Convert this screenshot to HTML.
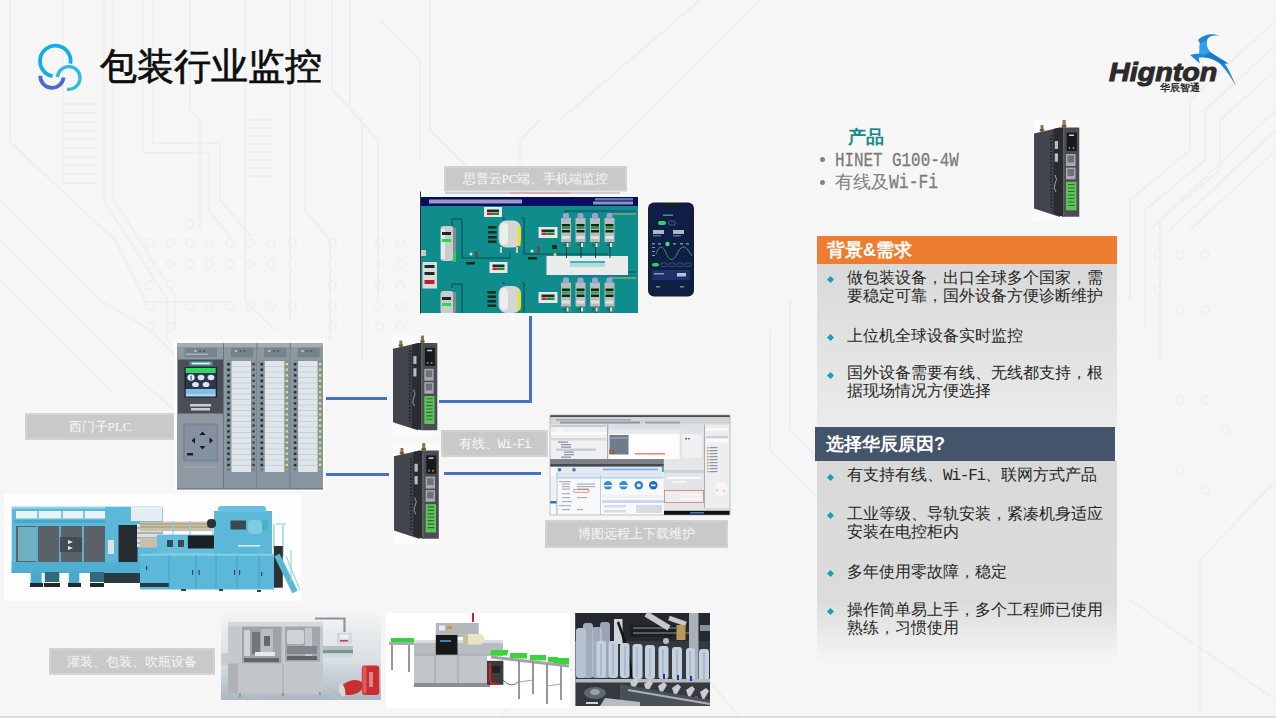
<!DOCTYPE html>
<html><head><meta charset="utf-8">
<style>
html,body{margin:0;padding:0;}
body{width:1276px;height:718px;position:relative;overflow:hidden;background:#f6f6f6;font-family:"Liberation Sans",sans-serif;}
.abs{position:absolute;}
.title{left:100px;top:41.5px;font-size:37.2px;color:#0d0d0d;-webkit-text-stroke:0.7px #0d0d0d;letter-spacing:0px;line-height:48px;white-space:nowrap;}
.lbl{position:absolute;background:#c9c9c9;border:2px solid #d2d2d2;color:#f6f6f6;font-family:"Liberation Serif",serif;font-size:13px;text-align:center;box-sizing:border-box;white-space:nowrap;}
.panel{position:absolute;left:817px;width:300px;}
.p{position:absolute;left:847px;font-family:"Liberation Serif",serif;font-size:16px;line-height:18px;color:#262626;white-space:nowrap;}
.dia{position:absolute;left:828px;width:5px;height:5px;background:#1c9cb8;transform:rotate(45deg);}
.line{position:absolute;background:#4472c4;}
</style></head>
<body>
<!-- bg pattern -->
<svg class="abs" style="left:0;top:0" width="1276" height="718" viewBox="0 0 1276 718">
 <g fill="none" stroke="#efefef" stroke-width="2">
  <path d="M10 0 V142 L115 240 L146 302 H226"/>
  <path d="M0 200 L100 300 L150 330 L230 410 H330"/>
  <path d="M0 240 L90 330 L140 380 L220 450"/>
  <path d="M0 280 L60 340 L110 390"/>
  <path d="M63 0 V186"/>
  <path d="M64 104.0 H97"/><path d="M64 113.0 H97"/><path d="M64 122.0 H97"/><path d="M64 131.0 H97"/><path d="M64 139.0 H97"/><path d="M64 148.0 H97"/><path d="M64 157.0 H97"/><path d="M64 165.0 H97"/><path d="M64 174.0 H97"/><path d="M64 183.0 H97"/>
  <path d="M104 0 V201 L167 299 V340"/>
  <path d="M113 0 V198 L175 296 V330"/>
  <path d="M143 0 V153 H209 V210 L232 240"/>
  <path d="M153 0 V143 H220 V200 L250 235"/>
  <path d="M190 0 V110 L200 120 V230"/>
  <path d="M245 0 V300 L275 330"/>
  <path d="M250 120.0 H272"/><path d="M250 128.0 H272"/><path d="M250 136.0 H272"/><path d="M250 144.0 H272"/><path d="M250 152.0 H272"/><path d="M250 160.0 H272"/><path d="M250 168.0 H272"/><path d="M250 176.0 H272"/>
  <path d="M290 0 V320"/>
  <path d="M305 0 V210 L330 240 V340"/>
  <path d="M332 0 V90 L362 120 V360"/>
  <path d="M350 0 V110 L378 140 V300"/>
  <path d="M380 20 L420 60 V160"/>
  <path d="M430 0 V130 L470 170"/>
  <path d="M560 120 L700 0"/>
  <path d="M600 160 L760 0"/>
  <path d="M520 230 V140 L540 120"/>
  <path d="M1150 230 L1276 110"/>
  <path d="M1170 230 L1276 130"/>
  <path d="M1190 230 L1276 150"/>
  <path d="M1130 300 V200 L1190 150 V100 L1276 20"/>
  <path d="M1145 330 V210 L1205 160 V110 L1276 45"/>
  <path d="M1160 360 V220 L1220 170 V120 L1276 70"/>
  <path d="M1200 718 V560 L1276 480"/>
  <path d="M1130 600 L1276 700"/>
  <path d="M740 718 L700 670 H540 L500 718"/>
  <path d="M770 330 V450 L820 500"/>
  <path d="M790 300 V430 L830 470"/>
 </g>
 <g fill="none" stroke="#efefef" stroke-width="1.6"><circle cx="189.7" cy="224.0" r="4"/><circle cx="149.7" cy="243.2" r="4"/><circle cx="170.6" cy="243.2" r="4"/><circle cx="189.7" cy="243.2" r="4"/><circle cx="208.8" cy="243.2" r="4"/><circle cx="229.7" cy="243.2" r="4"/><circle cx="250.6" cy="243.2" r="4"/><circle cx="271.5" cy="243.2" r="4"/><circle cx="292.4" cy="243.2" r="4"/><circle cx="332.4" cy="243.2" r="4"/><circle cx="379.4" cy="243.2" r="4"/><circle cx="400.3" cy="243.2" r="4"/><circle cx="149.7" cy="264.0" r="4"/><circle cx="170.6" cy="264.0" r="4"/><circle cx="189.7" cy="264.0" r="4"/><circle cx="208.8" cy="264.0" r="4"/><circle cx="229.7" cy="264.0" r="4"/><circle cx="250.6" cy="264.0" r="4"/><circle cx="271.5" cy="264.0" r="4"/><circle cx="292.4" cy="264.0" r="4"/><circle cx="332.4" cy="264.0" r="4"/><circle cx="379.4" cy="264.0" r="4"/><circle cx="400.3" cy="264.0" r="4"/><circle cx="149.7" cy="284.9" r="4"/><circle cx="170.6" cy="284.9" r="4"/><circle cx="332.4" cy="284.9" r="4"/><circle cx="379.4" cy="284.9" r="4"/><circle cx="400.3" cy="284.9" r="4"/><circle cx="149.7" cy="305.8" r="4"/><circle cx="170.6" cy="305.8" r="4"/><circle cx="189.7" cy="305.8" r="4"/><circle cx="208.8" cy="305.8" r="4"/><circle cx="229.7" cy="305.8" r="4"/><circle cx="250.6" cy="305.8" r="4"/><circle cx="271.5" cy="305.8" r="4"/><circle cx="292.4" cy="305.8" r="4"/><circle cx="332.4" cy="305.8" r="4"/><circle cx="379.4" cy="305.8" r="4"/><circle cx="400.3" cy="305.8" r="4"/><circle cx="149.7" cy="326.7" r="4"/><circle cx="170.6" cy="326.7" r="4"/><circle cx="332.4" cy="326.7" r="4"/><circle cx="379.4" cy="326.7" r="4"/><circle cx="400.3" cy="326.7" r="4"/>
  <circle cx="1158" cy="255" r="4"/><circle cx="1180" cy="255" r="4"/><circle cx="1205" cy="255" r="4"/><circle cx="1158" cy="290" r="4"/><circle cx="1180" cy="310" r="4"/><circle cx="1205" cy="310" r="4"/><circle cx="1180" cy="400" r="4"/><circle cx="1205" cy="400" r="4"/><circle cx="1225" cy="430" r="4"/><circle cx="1180" cy="470" r="4"/><circle cx="1205" cy="490" r="4"/>
 </g>
</svg>
<!-- bottom line -->
<div class="abs" style="left:0;top:716px;width:1276px;height:2px;background:#dcdcdc"></div>

<!-- logo icon -->
<svg class="abs" style="left:0;top:0" width="100" height="100" viewBox="0 0 100 100">
  <path d="M70.4 63.6 A15.3 15.3 0 1 0 52.6 76.1" fill="none" stroke="#12aee9" stroke-width="3.8"/>
  <path d="M57.4 77 A11.35 11.35 0 1 1 67.1 89.2" fill="none" stroke="#29bde6" stroke-width="3.3"/>
  <path d="M40.3 75.8 A11.7 11.7 0 0 0 63.6 77.6" fill="none" stroke="#4a6ccf" stroke-width="3.8"/>
</svg>
<div class="abs title">包装行业监控</div>

<!-- Hignton logo -->
<div class="abs" style="left:1109px;top:57px;font-size:25.5px;line-height:30px;font-weight:bold;font-style:italic;color:#2d2a2b;transform:scaleX(1.125);transform-origin:0 0;-webkit-text-stroke:1px #2d2a2b">Hignton</div>
<div class="abs" style="left:1160px;top:82px;font-size:10px;font-weight:bold;color:#2d2a2b;line-height:11px">华辰智通</div>

<svg class="abs" style="left:1180px;top:28px" width="66" height="66" viewBox="1180 28 66 66">
  <path d="M1197.9 39.9 C1200 38 1204 35.5 1208 34.6 C1212 33.8 1216 33.9 1219.5 35.8 C1216 35.2 1212 35.6 1209.4 36.9 C1207.4 38.2 1206.6 41 1206.7 43.6 C1206.8 47 1208 50 1210.3 52 C1214 55 1220 58 1228.3 63.4 L1224.6 63.4 C1228 68 1232 76 1236.3 86.8 C1232 79 1227 71 1220 63.5 C1215 59.5 1209 57.3 1203 57.2 L1198.6 57.8 L1199.8 63.4 L1195.6 59.7 L1190.1 55.1 C1193 54 1196 53.8 1199.3 53.7 C1199.9 51 1199.4 48 1199.6 46 C1200 43.5 1200 42 1197.9 39.9 Z" fill="#1b88d8"/>
  <path d="M1199.6 46 C1200 43.5 1202 41 1206.7 42 C1206.8 47 1208 50 1210.3 52 L1205 55 L1199.3 53.7 C1199.9 51 1199.4 48 1199.6 46 Z" fill="#3aa6ea" opacity="0.8"/>
  <path d="M1210.3 52 C1214 55 1220 58 1228.3 63.4 L1224.6 63.4 L1220 63.5 C1215 59.5 1209 57.3 1203 57.2 Z" fill="#1670c4" opacity="0.6"/>
</svg>
<!-- product -->
<div class="abs" style="left:848px;top:126px;font-size:18px;font-weight:bold;color:#138a8a;line-height:22px">产品</div>
<div class="abs" style="left:820px;top:157px;width:5px;height:5px;border-radius:50%;background:#7d828c"></div>
<div class="abs" style="left:820px;top:180px;width:5px;height:5px;border-radius:50%;background:#7d828c"></div>
<div class="abs" style="left:835px;top:149px;font-family:'Liberation Mono',monospace;font-size:21px;line-height:24px;color:#7a7a7a;transform:scaleX(0.755);transform-origin:0 0;white-space:nowrap;-webkit-text-stroke:0.3px #7a7a7a">HINET G100-4W</div>
<div class="abs" style="left:835px;top:171px;font-size:18px;line-height:22px;color:#808080;white-space:nowrap">有线及<span style="font-family:'Liberation Mono',monospace;font-size:21px;display:inline-block;transform:scaleX(0.78);transform-origin:0 0;-webkit-text-stroke:0.3px #7a7a7a">Wi-Fi</span></div>

<!-- orange header -->
<div class="abs" style="left:817px;top:236px;width:300px;height:28px;background:#ed7d31"></div>
<div class="abs" style="left:827px;top:238px;font-size:18px;font-weight:bold;color:#fff;line-height:24px">背景&amp;需求</div>
<div class="panel" style="top:264px;height:163px;background:linear-gradient(#d9d9d9,#ebebeb)"></div>

<div class="abs" style="left:815px;top:427px;width:300px;height:34px;background:#44546a"></div>
<div class="abs" style="left:826px;top:431px;font-size:18px;font-weight:bold;color:#fff;line-height:26px">选择华辰原因?</div>
<div class="panel" style="top:461px;height:200px;background:linear-gradient(#d9d9d9,#dcdcdc 70%,#f5f5f5)"></div>

<div class="dia" style="top:277px"></div>
<div class="p" style="top:269px">做包装设备，出口全球多个国家，需<br>要稳定可靠，国外设备方便诊断维护</div>
<div class="dia" style="top:335px"></div>
<div class="p" style="top:327px">上位机全球设备实时监控</div>
<div class="dia" style="top:373px"></div>
<div class="p" style="top:364px">国外设备需要有线、无线都支持，根<br>据现场情况方便选择</div>

<div class="dia" style="top:475px"></div>
<div class="p" style="top:466px">有支持有线、<span style="font-family:'Liberation Mono',monospace;font-size:16px;letter-spacing:-1.2px">Wi-Fi</span>、联网方式产品</div>
<div class="dia" style="top:513px"></div>
<div class="p" style="top:505px">工业等级、导轨安装，紧凑机身适应<br>安装在电控柜内</div>
<div class="dia" style="top:571px"></div>
<div class="p" style="top:563px">多年使用零故障，稳定</div>
<div class="dia" style="top:609px"></div>
<div class="p" style="top:601px">操作简单易上手，多个工程师已使用<br>熟练，习惯使用</div>

<!-- labels -->
<div class="lbl" style="left:444px;top:166px;width:183px;height:26px;line-height:22px">思普云PC端、手机端监控</div>
<div class="lbl" style="left:25px;top:413px;width:150px;height:27px;line-height:23px">西门子PLC</div>
<div class="lbl" style="left:441px;top:430px;width:107px;height:27px;line-height:23px">有线、<span style="font-family:'Liberation Mono',monospace;font-size:13px;letter-spacing:-1.3px">Wi-Fi</span></div>
<div class="lbl" style="left:545px;top:520px;width:183px;height:28px;line-height:24px">博图远程上下载维护</div>
<div class="lbl" style="left:49px;top:648px;width:166px;height:27px;line-height:23px">灌装、包装、吹瓶设备</div>

<!-- lines -->
<div class="line" style="left:529px;top:316px;width:3px;height:87px"></div>
<div class="line" style="left:439px;top:400px;width:93px;height:3px"></div>
<div class="line" style="left:326px;top:397px;width:61px;height:3px"></div>
<div class="line" style="left:326px;top:473px;width:63px;height:3px"></div>
<div class="line" style="left:444px;top:472px;width:97px;height:3px"></div>

<!-- SCADA -->
<svg class="abs" style="left:418px;top:188px" width="280" height="130" viewBox="418 188 280 130">
  <rect x="420" y="191.5" width="220" height="123" fill="#f4f6f8"/>
  <rect x="420" y="191.5" width="1" height="122" fill="#333"/>
  <rect x="445" y="192" width="175" height="2" fill="#c9ccd4"/>
  <rect x="510" y="192" width="60" height="2" fill="#d8a0a0" opacity="0.6"/>
  <rect x="421" y="197" width="217" height="9" fill="#0a0c62"/>
  <rect x="429" y="199.5" width="93" height="4" fill="#c8cce0" opacity="0.75"/>
  <rect x="595" y="198" width="38" height="2.5" fill="#6a90d0" opacity="0.8"/>
  <rect x="593" y="201.5" width="40" height="3" fill="#c8cce0" opacity="0.7"/>
  <clipPath id="scclip"><rect x="421" y="206" width="217" height="107"/></clipPath>
  <rect x="421" y="206" width="217" height="107" fill="#0f8d8c"/>
  <g clip-path="url(#scclip)">
  <!-- pipes -->
  <g fill="none" stroke="#143c3c" stroke-width="0.9">
    <path d="M452 226 V219 H462 V258 H478 H510 V253"/>
    <path d="M522 218 H524 V254 H560 H608"/>
    <path d="M565 218 V211 H636"/>
    <path d="M566 271 V272 H636"/>
    <path d="M452 288 V284 H462 V313"/>
    <path d="M522 283 H524 V313"/>
  </g>
  <g fill="none" stroke="#2a5fb8" stroke-width="1">
    <path d="M580 218 V212 H636"/>
    <path d="M580 282 V276 H636"/>
  </g>
  <g fill="none" stroke="#9ad04a" stroke-width="1">
    <path d="M609 218 V214 H636"/>
    <path d="M609 282 V278 H636"/>
  </g>
  <!-- tanks left -->
  <rect x="440.5" y="226" width="13" height="35" rx="3" fill="#c9cbcc"/>
  <rect x="441" y="229" width="4" height="30" fill="#e8e8e8"/>
  <rect x="442" y="232" width="9" height="3" fill="#1a2a22"/>
  <rect x="442" y="239" width="9" height="3" fill="#22dd44"/>
  <rect x="453" y="228" width="3" height="34" fill="#8a8a8a"/>
  <rect x="453" y="252" width="3" height="9" fill="#33cc44"/>
  <rect x="440.5" y="291" width="13" height="23" rx="3" fill="#c9cbcc"/>
  <rect x="442" y="297" width="9" height="3" fill="#1a2a22"/>
  <rect x="442" y="303" width="9" height="3" fill="#22dd44"/>
  <rect x="453" y="292" width="3" height="21" fill="#8a8a8a"/>
  <!-- left panel -->
  <rect x="422.5" y="262" width="14.5" height="26.5" fill="#d9dcdc"/>
  <rect x="424.5" y="265" width="10" height="3" fill="#153020"/>
  <rect x="424.5" y="272" width="10" height="3" fill="#153020"/>
  <rect x="424.5" y="280" width="10" height="4" fill="#c02020"/>
  <rect x="421" y="250" width="5" height="6" fill="#c8c8c8"/>
  <!-- reactors -->
  <rect x="498.5" y="220.5" width="22.5" height="27" rx="8" fill="#d3d5d6"/>
  <rect x="500" y="223" width="8" height="22" rx="4" fill="#eceeee"/>
  <rect x="517.5" y="226" width="3" height="20" fill="#f0e020"/>
  <rect x="500" y="247" width="2" height="6" fill="#cfcfcf"/>
  <rect x="516" y="247" width="2" height="6" fill="#cfcfcf"/>
  <rect x="498.5" y="286" width="22.5" height="27" rx="8" fill="#d3d5d6"/>
  <rect x="500" y="288" width="8" height="22" rx="4" fill="#eceeee"/>
  <rect x="517.5" y="291" width="3" height="19" fill="#f0e020"/>
  <circle cx="503.5" cy="218.5" r="1.3" fill="#2040c0"/>
  <circle cx="503.5" cy="283" r="1.3" fill="#2040c0"/>
  <!-- black displays -->
  <g fill="#0b2a1a">
    <rect x="488" y="226" width="8.5" height="2.5"/><rect x="488" y="231" width="8.5" height="2.5"/>
    <rect x="488" y="236" width="8.5" height="2.5"/><rect x="488" y="240.5" width="8.5" height="2.5"/>
    <rect x="487.5" y="291" width="8.5" height="2.5"/><rect x="487.5" y="295.5" width="8.5" height="2.5"/>
    <rect x="487.5" y="300" width="8.5" height="2.5"/><rect x="487.5" y="304.5" width="8.5" height="2.5"/>
    <rect x="466" y="262" width="9" height="2.5"/><rect x="528" y="257" width="9" height="2.5"/>
  </g>
  <!-- white panels -->
  <g>
    <rect x="484" y="207" width="18" height="10" fill="#e6e8e8"/>
    <rect x="487" y="209.5" width="12" height="2.5" fill="#1b3020"/><rect x="487" y="212.5" width="5" height="2.5" fill="#d02424"/><rect x="492" y="212.5" width="7" height="2.5" fill="#1f8a3a"/>
    <rect x="538.5" y="227" width="19" height="11" fill="#e6e8e8"/>
    <rect x="541.5" y="229.5" width="13" height="2.5" fill="#1b3020"/><rect x="541.5" y="232.5" width="5" height="2.5" fill="#d02424"/><rect x="546.5" y="232.5" width="8" height="2.5" fill="#1f8a3a"/>
    <rect x="489.5" y="262" width="18" height="11" fill="#e6e8e8"/>
    <rect x="492.5" y="264.5" width="12" height="2.5" fill="#1b3020"/><rect x="492.5" y="267.5" width="5" height="2.5" fill="#d02424"/><rect x="497.5" y="267.5" width="7" height="2.5" fill="#1f8a3a"/>
    <rect x="538.5" y="292" width="19" height="11" fill="#e6e8e8"/>
    <rect x="541.5" y="294.5" width="13" height="2.5" fill="#1b3020"/><rect x="541.5" y="297.5" width="5" height="2.5" fill="#d02424"/><rect x="546.5" y="297.5" width="8" height="2.5" fill="#1f8a3a"/>
  </g>
  <!-- big white box -->
  <rect x="546.5" y="256" width="81.5" height="19" fill="#eaecec"/>
  <rect x="570" y="261" width="35" height="6" fill="#b8d8dc"/>
  <rect x="570" y="261" width="35" height="2" fill="#30b8c8"/>
  <!-- tank rows -->
  <g id="tk">
    <rect x="561" y="218" width="10" height="24" fill="#b9bcbe"/>
    <rect x="563" y="213" width="6" height="6" rx="2" fill="#9aa8c8"/>
    <rect x="562" y="224" width="8" height="2.5" fill="#0b2a12"/>
    <rect x="562" y="227" width="8" height="2" fill="#2a9a3a"/>
    <rect x="562" y="230" width="8" height="2.5" fill="#0b2a12"/>
    <rect x="562" y="236" width="8" height="3" fill="#e0e0e0"/>
    <rect x="566" y="242" width="1" height="16" fill="#1b3b3b"/>
    <rect x="563" y="244" width="3" height="2" fill="#2a6a2a"/>
    <rect x="566.5" y="243" width="2" height="4" fill="#e0e0e0"/>
    <rect x="569" y="243" width="2" height="4" fill="#777"/>
  </g>
  <use href="#tk" x="14.5"/><use href="#tk" x="29"/><use href="#tk" x="43.5"/>
  <use href="#tk" y="64.5"/><use href="#tk" x="14.5" y="64.5"/><use href="#tk" x="29" y="64.5"/><use href="#tk" x="43.5" y="64.5"/>
  <!-- small valves -->
  <circle cx="471" cy="254" r="1.5" fill="#e6e6e6"/><rect x="475" y="251" width="3" height="6" fill="#555"/>
  <circle cx="532" cy="251" r="1.5" fill="#e6e6e6"/><rect x="537" y="246" width="3" height="7" fill="#555"/>
  <circle cx="555" cy="254.5" r="1.5" fill="#f0e020"/><rect x="552" y="245" width="5" height="4" fill="#153020"/>
  </g>
  <rect x="638" y="192" width="2" height="122" fill="#fbfbfb"/>
</svg>

<!-- phone -->
<svg class="abs" style="left:646px;top:200px" width="50" height="100" viewBox="646 200 50 100">
  <rect x="648" y="202.5" width="46" height="94" rx="6" fill="#1b1d22"/>
  <rect x="649.2" y="203.7" width="43.6" height="91.6" rx="5" fill="#0e1e44"/>
  <rect x="662" y="204" width="17" height="3" rx="1.5" fill="#1b1d22"/>
  <rect x="663" y="214.5" width="10" height="1.5" fill="#b0b8d0" opacity="0.6"/>
  <rect x="658" y="221" width="8" height="4" rx="2" fill="#2ed06a"/>
  <rect x="668.5" y="221" width="7" height="4" rx="2" fill="none" stroke="#7a8aa8" stroke-width="0.6"/>
  <rect x="653" y="230" width="11" height="4" fill="#d8dcec" opacity="0.8"/>
  <rect x="673" y="230" width="11" height="4" fill="#d8dcec" opacity="0.8"/>
  <rect x="653" y="235" width="8" height="1.5" fill="#5a6a90"/>
  <rect x="673" y="235" width="8" height="1.5" fill="#5a6a90"/>
  <circle cx="667.5" cy="244" r="2.2" fill="#3ddc7a"/>
  <g fill="#7a88a8"><rect x="652" y="243" width="3" height="1.5"/><rect x="658" y="243" width="3" height="1.5"/><rect x="673" y="243" width="3" height="1.5"/><rect x="680" y="243" width="3" height="1.5"/><rect x="686" y="243" width="3" height="1.5"/></g>
  <path d="M656 254 C659 245 663 245 666 253 S673 262 677 254 S684 245 688 250 L692 256" fill="none" stroke="#3fae5a" stroke-width="0.9"/><g fill="#8a98b8"><rect x="652" y="247" width="3" height="1"/><rect x="652" y="251" width="3" height="1"/><rect x="652" y="255" width="3" height="1"/></g>
  <rect x="652" y="263" width="7" height="3.5" rx="1.7" fill="#2ed06a"/>
  <g fill="none" stroke="#6a7aa0" stroke-width="0.5"><rect x="661" y="263" width="6" height="3.5" rx="1"/><rect x="669" y="263" width="6" height="3.5" rx="1"/><rect x="677" y="263" width="6" height="3.5" rx="1"/><rect x="685" y="263" width="6" height="3.5" rx="1"/></g>
  <rect x="652" y="270" width="38" height="10" fill="#1b3266"/>
  <rect x="677" y="273" width="9" height="3.5" fill="#d8dcec" opacity="0.85"/>
  <rect x="654" y="273" width="10" height="1.5" fill="#8898c0"/>
  <rect x="656" y="286" width="4" height="1.5" fill="#3fae5a"/>
  <rect x="680" y="286" width="4" height="1.5" fill="#3fae5a"/>
</svg>

<!-- PLC -->
<svg class="abs" style="left:172px;top:338px" width="156" height="156" viewBox="172 338 156 156">
  <rect x="174" y="340" width="151" height="151" fill="#fcfcfc"/>
  <path d="M181 343 H323 V489 H177 V347 Z" fill="#8e99a4"/>
  <rect x="177" y="343" width="146" height="4" fill="#a3adb6"/>
  <!-- CPU -->
  <rect x="184.5" y="347.8" width="32.5" height="9.5" fill="#77838e"/>
  <circle cx="195.5" cy="351" r="1.1" fill="#d8f040"/>
  <circle cx="200" cy="351" r="1.1" fill="#505a60"/><circle cx="204" cy="351" r="1.1" fill="#505a60"/>
  <rect x="186" y="353.5" width="22" height="1.5" fill="#a8b2ba"/>
  <rect x="178" y="359.5" width="45" height="54" fill="#4a4f57"/>
  <rect x="189.5" y="361.5" width="23" height="4" fill="#3aa7a0"/>
  <rect x="192" y="362.7" width="18" height="1.6" fill="#e8f4f2"/>
  <rect x="184.5" y="367.2" width="32.5" height="30.3" fill="#1e2024"/>
  <rect x="185.7" y="368" width="30" height="5" fill="#2bdd5a"/>
  <rect x="185.7" y="373" width="30" height="16" fill="#2e3452"/>
  <ellipse cx="191" cy="377.5" rx="3.6" ry="3.3" fill="#f4f6fa"/>
  <rect x="190.5" y="375.5" width="1.2" height="4.5" fill="#2a4aa0"/>
  <ellipse cx="201" cy="377.5" rx="3.4" ry="2.8" fill="#dce6f4"/>
  <ellipse cx="211" cy="377.5" rx="3.4" ry="2.8" fill="#dce6f4"/>
  <ellipse cx="195.5" cy="384.5" rx="3.4" ry="2.6" fill="#dce6f4"/>
  <ellipse cx="206" cy="384.5" rx="3.4" ry="2.6" fill="#dce6f4"/>
  <rect x="185.7" y="389" width="30" height="5" fill="#7cc0e6"/>
  <rect x="185.7" y="394" width="30" height="2.5" fill="#aad6f0"/>
  <rect x="190" y="404" width="21" height="2.5" fill="#c8cdd2"/>
  <rect x="191" y="408" width="19" height="2.5" fill="#c8cdd2"/>
  <rect x="183" y="423.5" width="35.5" height="38" fill="#7a8692"/>
  <rect x="185" y="425.5" width="31.5" height="34" fill="#8590a0"/>
  <path d="M202.5 431.5 l-3 3.5 h6 z M202.5 449.5 l-3 -3.5 h6 z M191.5 440.5 l3.5 -3 v6 z M213 440.5 l-3.5 -3 v6 z" fill="#15181c"/>
  <rect x="187" y="453" width="6" height="2.5" fill="#1e2226"/>
  <path d="M206 455.5 h6 v-4" fill="none" stroke="#30b0a8" stroke-width="0.8"/>
  <rect x="185" y="466" width="30" height="2" fill="#9aa4ae"/>
  <rect x="223" y="343" width="1" height="146" fill="#6a747e"/>
  <!-- modules -->
  <g id="mod">
    <rect x="224" y="347.8" width="33" height="125" fill="#8c98a2"/>
    <rect x="231" y="347.8" width="22" height="9.5" fill="#76828c"/>
    <circle cx="236" cy="351" r="1.1" fill="#d8f040"/>
    <circle cx="240.5" cy="351" r="1.1" fill="#505a60"/><circle cx="244.5" cy="351" r="1.1" fill="#505a60"/>
    <rect x="226" y="360" width="30" height="113" fill="#86929c"/>
    <rect x="231.5" y="361" width="19.5" height="111" fill="#dfe5ea"/>
    <path d="M231.5 366.5 H251 M231.5 372 H251 M231.5 377.5 H251 M231.5 383 H251 M231.5 388.5 H251 M231.5 394 H251 M231.5 399.5 H251 M231.5 405 H251 M231.5 410.5 H251 M231.5 416 H251 M231.5 421.5 H251 M231.5 427 H251 M231.5 432.5 H251 M231.5 438 H251 M231.5 443.5 H251 M231.5 449 H251 M231.5 454.5 H251 M231.5 460 H251 M231.5 465.5 H251" stroke="#b8c2ca" stroke-width="0.6"/>
    <path d="M228.5 363 V470" stroke="#2a2e33" stroke-width="2.6" stroke-dasharray="2.4 3.2"/>
    <path d="M253.5 363 V470" stroke="#3a3f45" stroke-width="2.4" stroke-dasharray="2.2 3.4"/>
    <rect x="224" y="472" width="33" height="17" fill="#8894a0"/>
    <rect x="256.5" y="343" width="1" height="146" fill="#6a747e"/>
  </g>
  <g transform="translate(33.3 0)">
    <rect x="224" y="347.8" width="33" height="125" fill="#8c98a2"/>
    <rect x="231" y="347.8" width="22" height="9.5" fill="#76828c"/>
    <circle cx="236" cy="351" r="1.1" fill="#d8f040"/>
    <circle cx="240.5" cy="351" r="1.1" fill="#505a60"/><circle cx="244.5" cy="351" r="1.1" fill="#505a60"/>
    <rect x="226" y="360" width="30" height="113" fill="#86929c"/>
    <rect x="231.5" y="361" width="19.5" height="111" fill="#dfe5ea"/>
    <path d="M231.5 366.5 H251 M231.5 372 H251 M231.5 377.5 H251 M231.5 383 H251 M231.5 388.5 H251 M231.5 394 H251 M231.5 399.5 H251 M231.5 405 H251 M231.5 410.5 H251 M231.5 416 H251 M231.5 421.5 H251 M231.5 427 H251 M231.5 432.5 H251 M231.5 438 H251 M231.5 443.5 H251 M231.5 449 H251 M231.5 454.5 H251 M231.5 460 H251 M231.5 465.5 H251" stroke="#b8c2ca" stroke-width="0.6"/>
    <path d="M228.5 363 V470" stroke="#2a2e33" stroke-width="2.6" stroke-dasharray="2.4 3.2"/>
    <path d="M253.5 363 V470" stroke="#d6e860" stroke-width="2.4" stroke-dasharray="2.2 3.4"/>
    <rect x="224" y="472" width="33" height="17" fill="#8894a0"/>
    <rect x="256.5" y="343" width="1" height="146" fill="#6a747e"/>
  </g>
  <g transform="translate(66.6 0)">
    <rect x="224" y="347.8" width="32" height="125" fill="#8c98a2"/>
    <rect x="231" y="347.8" width="22" height="9.5" fill="#76828c"/>
    <circle cx="236" cy="351" r="1.1" fill="#d8f040"/>
    <circle cx="240.5" cy="351" r="1.1" fill="#505a60"/><circle cx="244.5" cy="351" r="1.1" fill="#505a60"/>
    <rect x="226" y="360" width="30" height="113" fill="#86929c"/>
    <rect x="231.5" y="361" width="19.5" height="111" fill="#dfe5ea"/>
    <path d="M231.5 366.5 H251 M231.5 372 H251 M231.5 377.5 H251 M231.5 383 H251 M231.5 388.5 H251 M231.5 394 H251 M231.5 399.5 H251 M231.5 405 H251 M231.5 410.5 H251 M231.5 416 H251 M231.5 421.5 H251 M231.5 427 H251 M231.5 432.5 H251 M231.5 438 H251 M231.5 443.5 H251 M231.5 449 H251 M231.5 454.5 H251 M231.5 460 H251 M231.5 465.5 H251" stroke="#b8c2ca" stroke-width="0.6"/>
    <path d="M228.5 363 V470" stroke="#2a2e33" stroke-width="2.6" stroke-dasharray="2.4 3.2"/>
    <path d="M253.5 363 V470" stroke="#d6e860" stroke-width="2.4" stroke-dasharray="2.2 3.4"/>
    <rect x="224" y="472" width="32" height="17" fill="#8894a0"/>
  </g>
  <path d="M177 489 H323" stroke="#5a646e" stroke-width="1"/>
</svg>

<!-- router symbol -->
<svg width="0" height="0" style="position:absolute">
  <symbol id="rt" viewBox="0 0 47 102">
    <rect x="0" y="0" width="47" height="102" fill="#fbfbfb"/>
    <rect x="7.5" y="5" width="3" height="9" fill="#8a7850"/><rect x="6.8" y="9" width="4.4" height="2" fill="#6a5a40"/>
    <rect x="29.5" y="0" width="3.2" height="10" fill="#8a7850"/><rect x="28.8" y="5" width="4.6" height="2" fill="#6a5a40"/>
    <path d="M1 13.4 L27 7.5 V97 L1 88.5 Z" fill="#42454b"/>
    <path d="M30 7.5 H46.3 V96.8 H30 Z" fill="#4a4d54"/>
    <path d="M18.2 15 V90" stroke="#202226" stroke-width="2" stroke-dasharray="1.6 1.8"/>
    <path d="M20.4 9 L27 7.5 H30 V96.8 L20.4 93.8 Z" fill="#2a2c30"/>
    <rect x="21.8" y="21" width="3.2" height="8" fill="#b8bcc0"/>
    <rect x="21.8" y="33.4" width="3.2" height="8.4" fill="#b8bcc0"/>
    <path d="M22 55 q3 4 0 9 q-2 4 1 8" fill="none" stroke="#9a9ea4" stroke-width="1"/>
    <rect x="30" y="7.5" width="1.5" height="89" fill="#5a5d64"/>
    <rect x="33.7" y="12.5" width="10.1" height="18.4" fill="#18191c"/>
    <rect x="36" y="14.5" width="5" height="1.5" fill="#cfd2d6"/>
    <circle cx="36.5" cy="28" r="0.9" fill="#40d060"/><circle cx="40.5" cy="28" r="0.9" fill="#e09030"/>
    <rect x="33" y="34" width="9.5" height="12" fill="#a8acb2"/>
    <rect x="34.5" y="35.5" width="6.5" height="7" fill="#6d7178"/>
    <rect x="33" y="47.6" width="9.5" height="11.7" fill="#a8acb2"/>
    <rect x="34.5" y="49" width="6.5" height="7" fill="#6d7178"/>
    <rect x="33" y="61.8" width="10.5" height="28.5" fill="#5ec45a"/>
    <path d="M35 64.5 h6.5 M35 68 h6.5 M35 71.5 h6.5 M35 75 h6.5 M35 78.5 h6.5 M35 82 h6.5 M35 85.5 h6.5" stroke="#2f6a30" stroke-width="1.2"/>
  </symbol>
</svg>
<!-- routers -->
<svg class="abs" style="left:392px;top:334px" width="46" height="103"><use href="#rt" width="46" height="103"/></svg>
<svg class="abs" style="left:393px;top:442px" width="46.5" height="103"><use href="#rt" width="46.5" height="103"/></svg>
<svg class="abs" style="left:1033px;top:120px" width="47" height="102"><use href="#rt" width="47" height="102"/></svg>

<!-- TIA -->
<svg class="abs" style="left:548px;top:412px" width="184" height="106" viewBox="548 412 184 106">
  <rect x="550" y="415" width="180" height="100" fill="#e4e6e8"/>
  <rect x="550" y="415" width="180" height="2.2" fill="#4a4d52"/>
  <rect x="550" y="417.2" width="180" height="7.4" fill="#d3d6d9"/>
  <rect x="556" y="419" width="75" height="1.6" fill="#a0a6ae"/>
  <rect x="560" y="421.5" width="80" height="2" fill="#8d96a2"/>
  <rect x="645" y="421.5" width="35" height="2" fill="#9aa2ae"/>
  <!-- left tree -->
  <rect x="550" y="424.6" width="57" height="34.5" fill="#eef0f2"/>
  <rect x="551" y="425" width="55" height="2" fill="#c8ccd2"/>
  <rect x="556" y="428.5" width="8" height="3" fill="#fafafa"/>
  <rect x="551" y="432" width="55" height="3" fill="#fbfbfb"/>
  <rect x="551" y="438" width="55" height="2.5" fill="#d5d9de"/>
  <g fill="#8a95a8"><rect x="558" y="441.5" width="10" height="1.3"/><rect x="561" y="444" width="10" height="1.3"/><rect x="561" y="446.5" width="10" height="1.3"/><rect x="561" y="449" width="24" height="1.3"/><rect x="564" y="451.5" width="10" height="1.3"/><rect x="564" y="454" width="10" height="1.3"/><rect x="561" y="456.5" width="10" height="1.3"/></g>
  <rect x="556" y="448.5" width="40" height="2.5" fill="#c5ccd6"/>
  <rect x="607" y="424.6" width="1.5" height="34.5" fill="#a8adb4"/>
  <!-- center canvas -->
  <rect x="608.5" y="424.6" width="72" height="5" fill="#dcdfe3"/>
  <rect x="608.5" y="429.6" width="71" height="4.5" fill="#e8eaed"/>
  <rect x="608.5" y="434" width="71" height="25" fill="#fdfdfd"/>
  <rect x="609.5" y="435" width="19" height="19.5" fill="#6e7d8a"/>
  <rect x="610.5" y="437" width="17" height="2" fill="#8d9aa6"/>
  <rect x="609.5" y="450" width="4.5" height="3.5" fill="none" stroke="#e03030" stroke-width="0.7"/>
  <rect x="635" y="453" width="30" height="1.6" fill="#f06a5a" opacity="0.8"/>
  <rect x="680.5" y="424.6" width="24" height="34" fill="#e0e3e6"/>
  <rect x="682" y="434" width="20" height="24" fill="#eef0f2"/>
  <rect x="685" y="438" width="2" height="1.5" fill="#e04020"/><rect x="688" y="438" width="2" height="1.5" fill="#40a040"/>
  <!-- right catalog -->
  <rect x="704" y="424.6" width="26" height="90" fill="#eceef0"/>
  <rect x="704" y="424.6" width="1" height="90" fill="#a8adb4"/>
  <rect x="706" y="428" width="22" height="2.5" fill="#fafafa"/>
  <rect x="706" y="436" width="22" height="2" fill="#c8ced6"/>
  <rect x="706" y="439" width="22" height="3.5" fill="#fafafa"/>
  <g fill="#d0a030"><rect x="707" y="447" width="1.5" height="1.5"/><rect x="707" y="450" width="1.5" height="1.5"/><rect x="707" y="453" width="1.5" height="1.5"/><rect x="707" y="456" width="1.5" height="1.5"/><rect x="707" y="459" width="1.5" height="1.5"/><rect x="707" y="462" width="1.5" height="1.5"/><rect x="707" y="465" width="1.5" height="1.5"/><rect x="707" y="468" width="1.5" height="1.5"/><rect x="707" y="471" width="1.5" height="1.5"/></g>
  <g fill="#8a95a8"><rect x="709.5" y="447" width="8" height="1.2"/><rect x="709.5" y="450" width="8" height="1.2"/><rect x="709.5" y="453" width="8" height="1.2"/><rect x="709.5" y="456" width="8" height="1.2"/><rect x="709.5" y="459" width="8" height="1.2"/><rect x="709.5" y="462" width="8" height="1.2"/><rect x="709.5" y="465" width="8" height="1.2"/><rect x="709.5" y="468" width="8" height="1.2"/><rect x="709.5" y="471" width="8" height="1.2"/></g>
  <ellipse cx="721" cy="489" rx="7" ry="7" fill="#fbf6f6"/>
  <circle cx="717" cy="490" r="1.5" fill="#f5b0b0" opacity="0.6"/><circle cx="724" cy="491" r="1.5" fill="#f5b0b0" opacity="0.6"/>
  <rect x="704" y="508" width="26" height="3" fill="#d8dbe0"/>
  <!-- properties bottom right -->
  <rect x="663.8" y="470" width="40.2" height="41" fill="#e2e4e6"/>
  <rect x="663.8" y="470" width="40" height="3" fill="#cdd2d8"/>
  <rect x="667" y="477" width="34" height="2" fill="#fafafa"/>
  <rect x="671" y="481" width="15" height="2" fill="#f4f4f4"/>
  <rect x="664.5" y="490.5" width="39" height="12" fill="#eceeef" stroke="#e05040" stroke-width="0.6"/>
  <rect x="681" y="494" width="20" height="1.6" fill="#fafafa"/><rect x="681" y="498" width="20" height="1.6" fill="#fafafa"/>
  <rect x="663.8" y="510.8" width="66" height="4.2" fill="#0e1014"/>
  <rect x="690" y="512" width="14" height="1.6" fill="#5070c0"/>
  <!-- dialog -->
  <rect x="550" y="459" width="113.8" height="5" fill="#7d8084"/>
  <rect x="550" y="464" width="113.8" height="2.8" fill="#45484d"/>
  <rect x="550" y="466.8" width="113.8" height="48.2" fill="#f7f9fb"/>
  <rect x="557" y="467" width="106.8" height="5.5" fill="#e3eaf2"/>
  <circle cx="559.5" cy="469.8" r="1.8" fill="#2a7ad0"/><circle cx="574" cy="469.8" r="1.8" fill="#2a7ad0"/>
  <rect x="603" y="468.5" width="55" height="1.8" fill="#7ab0e8"/>
  <rect x="662" y="467" width="1.8" height="5" fill="#30a0e0"/>
  <rect x="557" y="472.5" width="106.8" height="3" fill="#dfe4ea"/>
  <rect x="557" y="476.2" width="44" height="2.6" fill="#c4daf2"/>
  <rect x="600.5" y="476.2" width="63" height="2.6" fill="#c4daf2"/>
  <rect x="600" y="475" width="1" height="40" fill="#c8ccd2"/>
  <rect x="556.5" y="472.5" width="0.8" height="42.5" fill="#9aa0a8"/>
  <g fill="#a8b0bc"><rect x="559" y="481" width="12" height="1.2"/><rect x="562" y="483.5" width="8" height="1.2"/><rect x="577" y="483.5" width="18" height="1.2"/><rect x="562" y="486" width="8" height="1.2"/><rect x="577" y="486" width="18" height="1.2"/><rect x="562" y="488.5" width="8" height="1.2"/><rect x="577" y="488.5" width="12" height="1.2"/><rect x="562" y="493" width="8" height="1.2"/><rect x="562" y="497" width="8" height="1.2"/><rect x="577" y="497" width="10" height="1.2"/><rect x="562" y="501" width="10" height="1.2"/><rect x="559" y="505" width="12" height="1.2"/><rect x="562" y="509" width="8" height="1.2"/><rect x="577" y="509" width="6" height="1.2"/></g>
  <rect x="573.5" y="489.5" width="15.5" height="2.8" rx="1" fill="none" stroke="#e04a40" stroke-width="0.6"/>
  <rect x="550" y="501" width="6.5" height="2.5" fill="#1e78d6"/>
  <g fill="#eef2f6"><rect x="550" y="476" width="6.5" height="24"/></g>
  <circle cx="608" cy="485.3" r="4.2" fill="#3c8ad0"/><rect x="604" y="485" width="8" height="1.5" fill="#e8f2fb"/>
  <circle cx="623.5" cy="485.3" r="4.2" fill="#3c8ad0"/><rect x="619.5" y="485" width="8" height="1.5" fill="#e8f2fb"/>
  <circle cx="638.8" cy="485.3" r="4.2" fill="#2a7ac8"/><circle cx="638.8" cy="485.3" r="2" fill="#e8f2fb"/>
  <circle cx="653.3" cy="485.3" r="4.2" fill="#1c6cc8"/><rect x="651" y="484.5" width="4.6" height="1.6" fill="#e8f2fb"/>
  <rect x="602" y="495" width="60" height="3" fill="#eef0f2"/>
  <rect x="602" y="500" width="62" height="3" fill="#c4daf2"/>
  <g fill="#d8dce2"><rect x="604" y="505" width="22" height="2.5"/><rect x="604" y="510" width="22" height="2.5"/><rect x="636" y="505" width="26" height="8"/></g>
  <rect x="550" y="415" width="180" height="100" fill="none" stroke="#9aa0a6" stroke-width="0.6"/>
</svg>

<!-- injection machine -->
<svg class="abs" style="left:2px;top:492px" width="302" height="112" viewBox="2 492 302 112">
  <rect x="4" y="494" width="297" height="107" fill="#fdfdfd"/>
  <!-- guard -->
  <rect x="11.7" y="506.8" width="151" height="66" fill="#5bb8d9"/>
  <rect x="11.7" y="506.8" width="151" height="2" fill="#8fd4e4"/>
  <rect x="16" y="511" width="91" height="7.5" fill="#eaf4f6"/>
  <path d="M38 511 V518.5 M62 511 V518.5 M84 511 V518.5" stroke="#5bb8d9" stroke-width="1.5"/>
  <rect x="14" y="520" width="103" height="3" fill="#48a8cc"/>
  <rect x="16" y="526" width="89" height="36" fill="#5a6268"/>
  <rect x="18" y="527" width="18" height="34" fill="#6fb0c0"/>
  <path d="M37 526 V562 M60 526 V562 M83 526 V562" stroke="#5bb8d9" stroke-width="1.8"/>
  <rect x="60" y="537" width="22" height="15" fill="#444c52"/>
  <path d="M68 540 l5 2 l-5 2 z M68 546 l5 2 l-5 2 z" fill="#eaeaea"/>
  <rect x="105" y="507" width="57" height="62" fill="#5bb8d9"/>
  <rect x="131" y="507" width="31" height="14" fill="#e4eef2"/>
  <rect x="118.5" y="525" width="19" height="37" fill="#262b30"/>
  <rect x="137" y="524" width="25" height="23" fill="#d8e2e6"/>
  <path d="M137 528 H162 M137 533 H162 M137 538 H162 M137 543 H162" stroke="#9aa4aa" stroke-width="1.5"/>
  <rect x="108" y="540" width="6" height="14" fill="#dde4e8"/>
  <rect x="11.7" y="562" width="151" height="11" fill="#50aed2"/>
  <!-- feet -->
  <g fill="#4aa8cc"><rect x="30.7" y="572" width="11" height="11"/><rect x="68.8" y="572" width="10.5" height="11"/></g><g fill="#2f6a80"><rect x="44.8" y="572" width="14.5" height="10"/><rect x="90" y="572" width="14" height="10"/></g>
  <g fill="#23282c"><rect x="30" y="583" width="13" height="4"/><rect x="44" y="583" width="16" height="4"/><rect x="68" y="583" width="13" height="4"/><rect x="90" y="583" width="14" height="4"/></g>
  <rect x="104" y="573" width="62" height="10" fill="#2a3a40"/>
  <!-- barrels -->
  <rect x="140" y="521.6" width="73" height="9.5" fill="#c8c0a8"/>
  <path d="M140 524 H213 M140 527 H213" stroke="#9a8c70" stroke-width="0.8"/>
  <rect x="140" y="538" width="19" height="9.7" fill="#c8c0a8"/>
  <path d="M173 521 V553 M190 521 V553 M213 521 V553" stroke="#8ad2e4" stroke-width="1.2"/>
  <!-- motor section -->
  <rect x="157" y="534.6" width="57" height="19.2" fill="#66bedf"/>
  <rect x="167" y="540" width="6" height="7" fill="#3a4a52"/>
  <rect x="178" y="540" width="6" height="7" fill="#3a4a52"/>
  <rect x="187.9" y="535.5" width="30" height="13" fill="#1c2024"/>
  <!-- injection unit -->
  <rect x="214" y="511" width="58" height="43" fill="#5bb8d9"/>
  <rect x="218" y="506" width="48" height="6" rx="3" fill="#68c0e0"/>
  <rect x="230.5" y="520.5" width="15.5" height="9" fill="#3a4850"/>
  <rect x="248" y="520" width="14" height="14" rx="4" fill="#7dcde0"/>
  <rect x="262" y="520" width="6" height="10" fill="#4fb0c8"/>
  <rect x="207" y="519" width="9" height="9" rx="4" fill="#2a3036"/>
  <rect x="238" y="545" width="22" height="1.5" fill="#e0f2f6"/>
  <!-- cabinet -->
  <rect x="140" y="553.8" width="134" height="35.7" fill="#5bb8d9"/>
  <rect x="140" y="553.8" width="134" height="2" fill="#82d0e2"/>
  <path d="M169 555 V589 M196 555 V589 M216 555 V589 M237 555 V589 M259 555 V589" stroke="#3f9eb8" stroke-width="0.8"/>
  <g fill="#2a4a56"><rect x="192" y="570" width="1.2" height="5"/><rect x="198.5" y="570" width="1.2" height="5"/><rect x="234" y="570" width="1.2" height="5"/><rect x="239" y="570" width="1.2" height="5"/><rect x="261" y="572" width="1.2" height="4"/><rect x="146" y="566" width="1.2" height="4"/></g>
  <rect x="140" y="583" width="28.7" height="4" fill="#2a3a40"/>
  <g fill="#3a3f44"><rect x="181" y="589" width="5" height="2"/><rect x="219" y="589" width="4" height="2"/><rect x="257" y="590" width="4" height="2"/></g>
  <!-- stairs & railing -->
  <path d="M274 524 V554 M283 525 V556 M276 524 H286" stroke="#7ccbe0" stroke-width="1.2" fill="none"/>
  <rect x="274" y="546" width="8.8" height="41.7" fill="#2a3036"/>
  <path d="M277 555 L295 592" stroke="#5bb8d9" stroke-width="6"/><path d="M279 560 L293 588" stroke="#3f9eb8" stroke-width="0.8" stroke-dasharray="1 3"/>
  <path d="M286 556 L300 590 M291 550 V582" stroke="#82d0e2" stroke-width="1" fill="none"/>
</svg>

<!-- bottom photos -->
<svg class="abs" style="left:219px;top:611px" width="495" height="100" viewBox="219 611 495 100">
  <defs>
    <linearGradient id="fbg" x1="0" y1="0" x2="0" y2="1">
      <stop offset="0" stop-color="#f2f4f5"/><stop offset="0.55" stop-color="#d9dfe3"/><stop offset="1" stop-color="#aab8c2"/>
    </linearGradient>
    <linearGradient id="btl" x1="0" y1="0" x2="1" y2="0">
      <stop offset="0" stop-color="#7d8fa0"/><stop offset="0.5" stop-color="#c8d6e2"/><stop offset="1" stop-color="#6a7a8a"/>
    </linearGradient>
  </defs>
  <!-- photo1 filling -->
  <rect x="221" y="613.5" width="160" height="86.5" fill="url(#fbg)"/>
  <path d="M221 672 L260 700 M300 668 L340 700 M250 680 L330 668" stroke="#c8d4dc" stroke-width="0.8" opacity="0.7"/>
  <path d="M315 618.5 H344.5 V632" fill="none" stroke="#8e9498" stroke-width="2.2"/>
  <rect x="221" y="653" width="8" height="12" fill="#c8ccd0"/>
  <rect x="228" y="622" width="95" height="42" fill="#c6c9cc"/>
  <rect x="228" y="622" width="95" height="4.5" fill="#d6d8da"/>
  <rect x="242" y="626.7" width="39.5" height="37" fill="#9ea4a8"/>
  <rect x="244" y="630" width="6" height="26" fill="#d0d4d8"/>
  <rect x="252" y="632" width="8" height="22" fill="#70787e"/>
  <rect x="261" y="629" width="12" height="25" fill="#b8bec2"/>
  <rect x="264" y="636" width="6" height="10" fill="#606a70"/>
  <rect x="255" y="652" width="20" height="4" fill="#e6eaec"/>
  <rect x="285" y="626.7" width="35" height="35" fill="#a2a8ac"/>
  <rect x="287" y="630" width="17" height="14" rx="2" fill="#cfd3d6"/>
  <rect x="305" y="628" width="7" height="30" fill="#c4c8cc"/>
  <rect x="287" y="646" width="30" height="8" fill="#80888e"/>
  <rect x="244" y="658" width="35" height="4" fill="#5e666c"/>
  <rect x="287" y="656" width="30" height="4" fill="#5e666c"/>
  <rect x="228" y="663.5" width="95" height="30" fill="#c3c6c9"/>
  <rect x="228" y="663.5" width="10" height="30" fill="#aeb2b5"/>
  <path d="M283 663.5 V693" stroke="#9ea2a6" stroke-width="0.8"/>
  <path d="M240 693 V697 M283 693 V696 M320 692 V695" stroke="#7a8086" stroke-width="1.2"/>
  <rect x="337" y="632.7" width="15" height="11.5" fill="#d4d8dc"/>
  <rect x="340" y="634.5" width="8.5" height="4" fill="#eef2f6"/>
  <rect x="340" y="640" width="8" height="1.5" fill="#c04040"/>
  <rect x="323" y="646" width="30" height="4" fill="#b8c0c4"/>
  <rect x="323" y="650" width="30" height="3.5" fill="#507868" opacity="0.7"/>
  <rect x="323" y="653.5" width="30" height="4" fill="#d0d6da"/>
  <ellipse cx="352" cy="687.5" rx="11.5" ry="7" fill="#c83030" transform="rotate(-15 352 687.5)"/>
  <ellipse cx="342" cy="690" rx="3" ry="6.8" fill="#d8dadc" transform="rotate(-15 342 690)"/>
  <rect x="361.8" y="665.5" width="17.5" height="29.5" rx="3" fill="#c82e2e"/>
  <rect x="362.5" y="666.5" width="4" height="27" fill="#e05858"/>
  <rect x="369" y="672" width="4" height="15" fill="#e8c0c0" opacity="0.6"/>

<!-- photo2 packaging -->
  <rect x="386" y="613" width="184" height="95" fill="#ffffff"/>
  <rect x="391" y="638" width="23" height="4.5" fill="#38d038"/>
  <rect x="389" y="642" width="27" height="3" fill="#a8acb0"/>
  <path d="M392 645 V670 M409 645 V672" stroke="#8a8e92" stroke-width="1.8"/>
  <rect x="435.8" y="623" width="43" height="14" fill="#b4b8bc"/>
  <rect x="439" y="625.5" width="6" height="5" fill="#e6ecf2"/>
  <rect x="447" y="626" width="5" height="3" fill="#e09030"/>
  <rect x="472" y="613" width="2" height="9" fill="#d02020"/>
  <rect x="414" y="640" width="89" height="16" fill="#b8bcc0"/>
  <rect x="414" y="640" width="89" height="3" fill="#d8dcdf"/>
  <rect x="435.8" y="635" width="21.7" height="23" fill="#17181a"/>
  <rect x="440" y="640" width="11" height="2" fill="#4a7ab0"/>
  <rect x="463" y="634" width="21.5" height="10.5" rx="5" fill="#e8e2c8"/>
  <rect x="463" y="634" width="5" height="10.5" rx="2" fill="#c8bc90"/>
  <rect x="414" y="655" width="73" height="30" fill="#c2c6ca"/>
  <path d="M414 655 H487 M435 655 V685 M458 655 V685" stroke="#9a9ea2" stroke-width="0.8" fill="none"/>
  <rect x="414" y="683" width="76" height="4" fill="#8a8e92"/>
  <rect x="487" y="660.8" width="16.4" height="24" fill="#3a3c40"/>
  <path d="M490 663 v16 q0 5 5 5 h3" fill="none" stroke="#d42020" stroke-width="2.2"/>
  <rect x="492" y="666" width="8" height="7" fill="#222"/>
  <path d="M503 680 Q512 690 520 680" fill="none" stroke="#444" stroke-width="0.8"/>
  <g fill="#3ad53a"><rect x="491" y="650" width="17" height="5.5" transform="skewX(-15)" transform-origin="499 652"/><rect x="510" y="653" width="17" height="5.5"/><rect x="530" y="655" width="16" height="5.5"/><rect x="548" y="657" width="10" height="5"/><rect x="553" y="658" width="16" height="6"/></g>
  <path d="M491 657 L569 666" stroke="#a0a4a8" stroke-width="3"/>
  <path d="M519 660 V699 M533 662 V694 M547 664 V704 M561 666 V700" stroke="#8a8e92" stroke-width="1.8"/>
  <path d="M519 682 L533 680 M547 686 L561 684" stroke="#a0a4a8" stroke-width="1"/>

  <!-- photo3 blow molding -->
  <rect x="575.4" y="613" width="134.6" height="93" fill="#343940"/>
  <rect x="575.4" y="613" width="134.6" height="28" fill="#25292e"/>
  <rect x="630" y="625" width="45" height="12" fill="#1c1f23"/>
  <path d="M633 628 H676 M633 633 H690" stroke="#6a7078" stroke-width="1.5"/>
  <path d="M646 614 L669 628" stroke="#c6cace" stroke-width="6"/>
  <path d="M669 618 L686 624" stroke="#c6cace" stroke-width="5"/>
  <rect x="676.5" y="625" width="9" height="15" fill="#b89a58"/>
  <circle cx="666" cy="641" r="3" fill="#b8bcc0"/>
  <rect x="689" y="613" width="9.5" height="66" fill="#a9b0b8"/>
  <rect x="700" y="625" width="10" height="6" fill="#8a9098"/>
  <rect x="614" y="619" width="8.5" height="25" fill="#d0d4d8"/>
  <path d="M618 622 C625 640 630 660 632 678" stroke="#101214" stroke-width="2.5" fill="none"/>
  <g fill="#b6c2d2">
    <rect x="576" y="628" width="10" height="50" rx="3"/>
    <rect x="583" y="623" width="10" height="55" rx="3" opacity="0.85"/>
    <rect x="592" y="627" width="10" height="51" rx="3" opacity="0.85"/>
    <rect x="600" y="622" width="10" height="56" rx="3" opacity="0.8"/>
  </g>
  <g fill="#c4d0de">
    <rect x="596.5" y="640.7" width="9.5" height="37" rx="3"/>
    <rect x="608.5" y="641" width="9.5" height="37" rx="3"/>
    <rect x="620" y="643" width="9.5" height="35" rx="3"/>
    <rect x="632.5" y="644" width="10" height="35" rx="3"/>
    <rect x="645" y="645" width="10" height="34" rx="3"/>
    <rect x="658.5" y="646" width="10" height="33" rx="3"/>
    <rect x="672" y="647" width="10" height="33" rx="3"/>
    <rect x="686" y="648" width="9" height="32" rx="3"/>
    <rect x="699" y="649" width="10" height="32" rx="3"/>
  </g>
  <g stroke="#8a98b0" stroke-width="1" opacity="0.8">
    <path d="M601 644 V676 M613 644 V676 M625 646 V676 M637 647 V677 M650 648 V677 M663 649 V677 M677 650 V678 M690 651 V678 M704 652 V679"/>
  </g>
  <rect x="575.4" y="679" width="134.6" height="3.5" fill="#b4bac0"/>
  <g fill="#c8ccd0">
    <path d="M630 682 l6 -4 l3 3 l-6 10 z"/><path d="M644 684 l6 -4 l3 3 l-6 10 z"/><path d="M658 686 l6 -4 l3 3 l-6 10 z"/><path d="M672 688 l6 -4 l3 3 l-6 10 z"/><path d="M686 690 l6 -4 l3 3 l-6 10 z"/><path d="M700 692 l6 -4 l3 3 l-6 10 z"/>
  </g>
  <g fill="#9aa0a6"><rect x="633" y="693" width="6" height="10"/><rect x="647" y="695" width="6" height="9"/><rect x="661" y="697" width="6" height="8"/><rect x="675" y="697" width="6" height="8"/><rect x="689" y="697" width="6" height="8"/></g>
  <g fill="#d03030"><rect x="639" y="689" width="3" height="2"/><rect x="653" y="691" width="3" height="2"/><rect x="667" y="693" width="3" height="2"/><rect x="681" y="695" width="3" height="2"/><rect x="695" y="696" width="3" height="2"/></g>
  <g fill="#3030a0"><rect x="663" y="674" width="2" height="5"/><rect x="677" y="675" width="2" height="5"/><rect x="690" y="676" width="2" height="5"/></g>
  <path d="M620 684 L710 700 V706 H620 Z" fill="#4a5058"/><path d="M628 690 L710 704" stroke="#aab0b6" stroke-width="2"/><ellipse cx="595" cy="693" rx="11" ry="6" fill="#60686e"/>
  <ellipse cx="595" cy="692" rx="5" ry="3" fill="#9aa2a8"/>
  <path d="M605 698 L640 702 L640 706 L600 706 Z" fill="#b8bcc0"/>
  <rect x="586" y="702" width="12" height="2" fill="#d0d4d8"/>
</svg>

</body></html>
